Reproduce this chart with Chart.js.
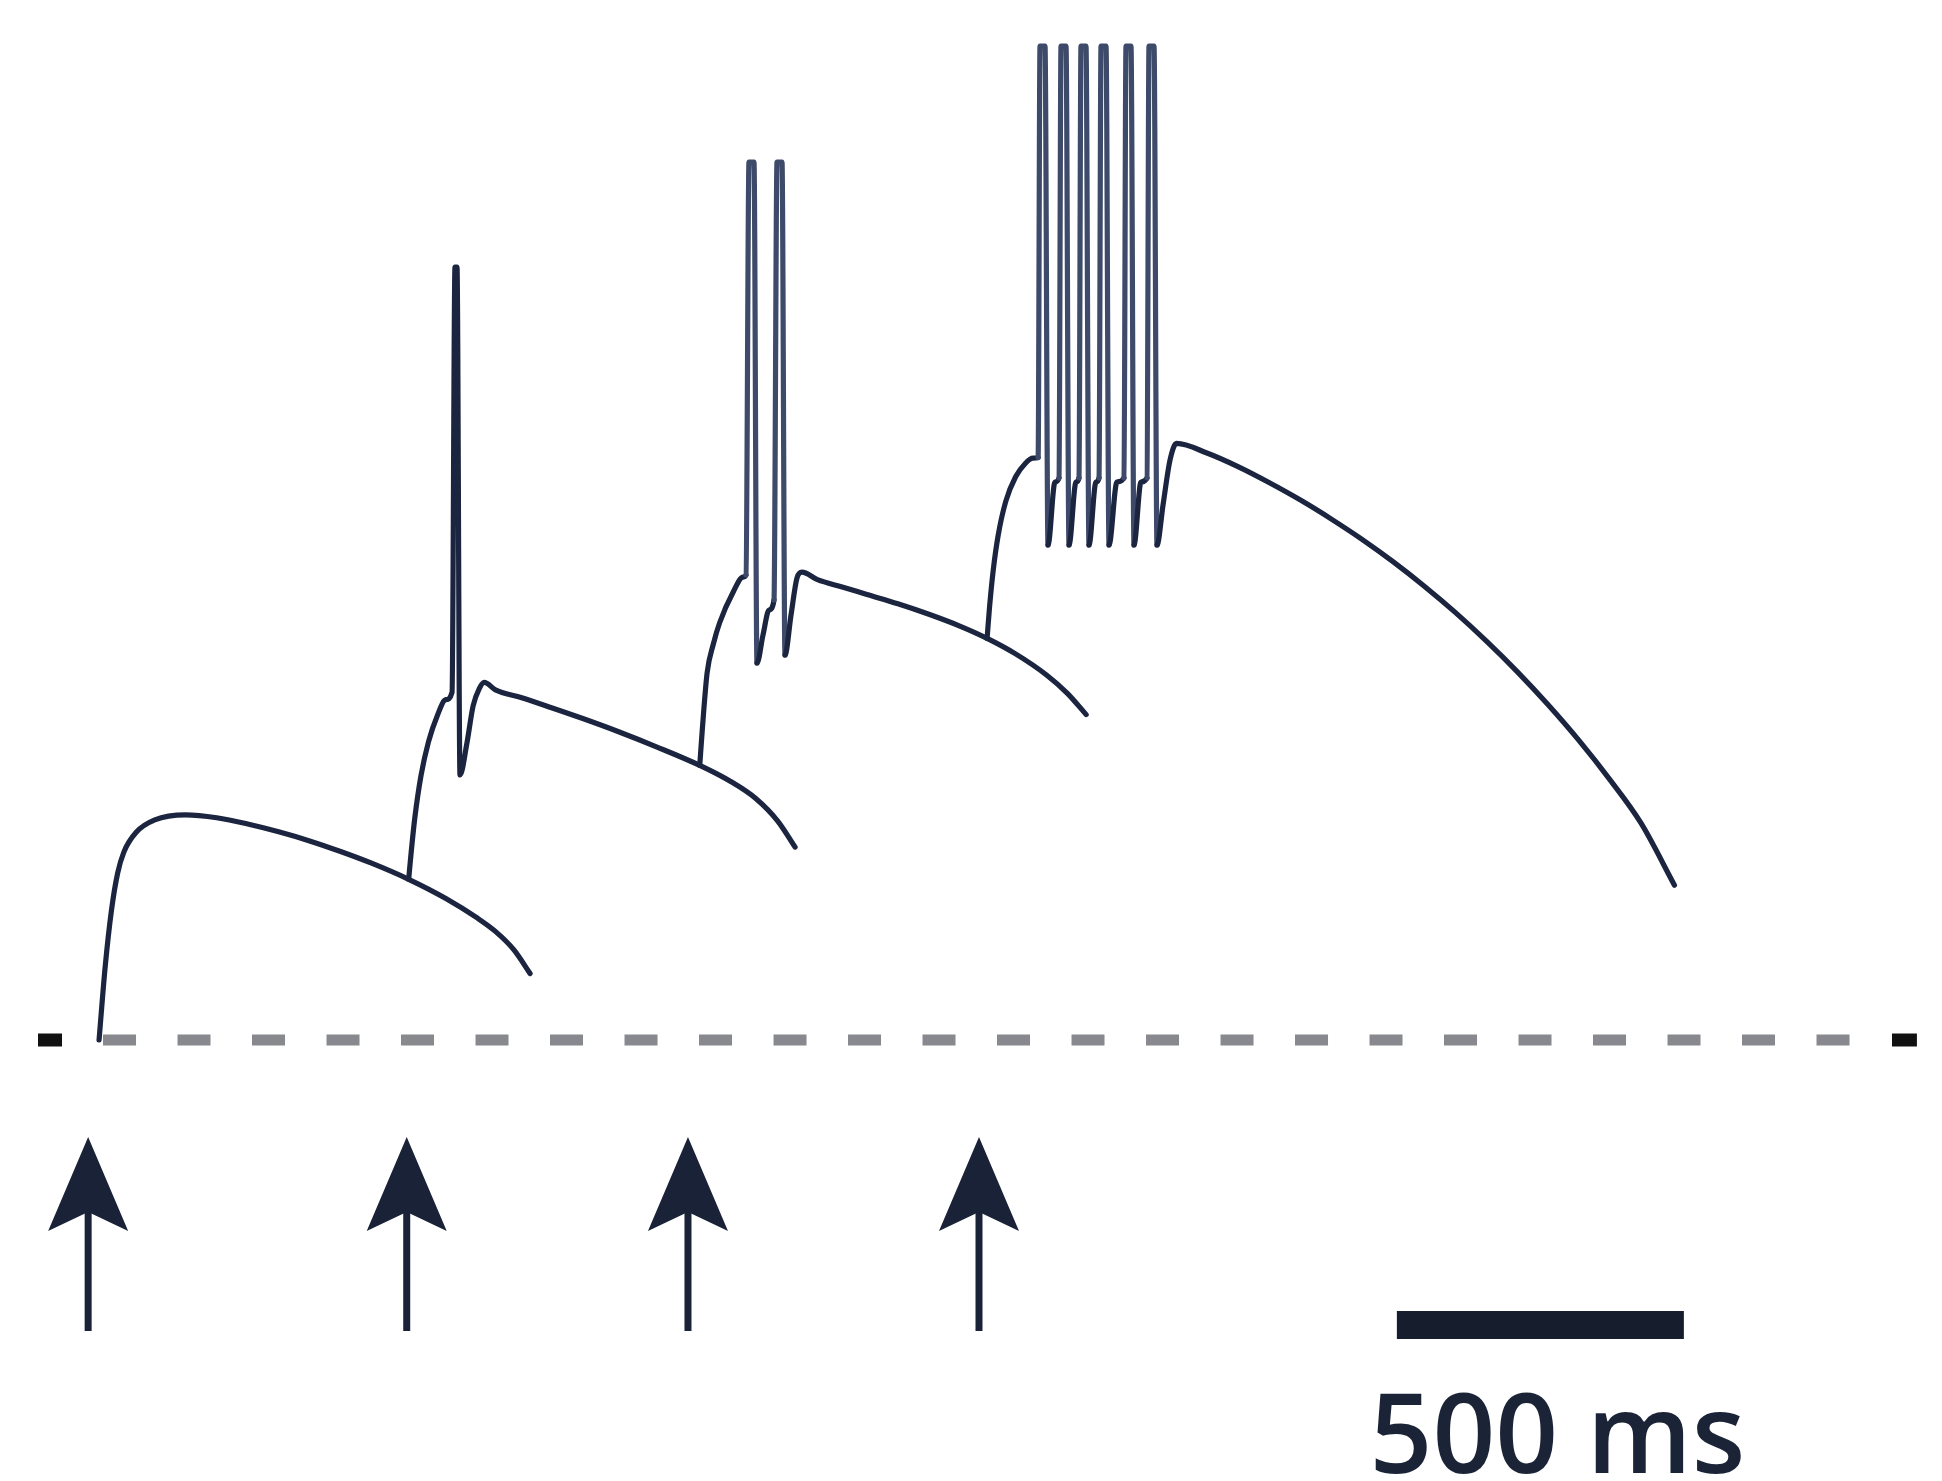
<!DOCTYPE html>
<html>
<head>
<meta charset="utf-8">
<script src="https://cdn.jsdelivr.net/npm/chart.js@4/dist/chart.umd.min.js"></script>
<style>
  html, body { margin: 0; padding: 0; background: #ffffff; }
  #wrap { width: 1942px; height: 1481px; position: relative; }
</style>
</head>
<body>
<div id="wrap"><canvas id="c"></canvas></div>
<script>
// Time in ms from the first stimulus; membrane potential in mV above rest.
const stimTimes = [2, 557, 1047, 1554];

// One stimulus: single EPSP
const trace1 = [
  [21.0, 0.0], [31.8, 7.40], [42.6, 12.97], [53.4, 16.69], [64.2, 18.79], [85.7, 20.77],
  [118.1, 22.01], [172.1, 22.51], [226.0, 22.22], [279.9, 21.60], [333.9, 20.82],
  [387.8, 19.91], [441.8, 18.85], [495.7, 17.68], [560.4, 16.07], [625.2, 14.15],
  [679.1, 12.23], [711.5, 10.86], [743.8, 9.01], [771.9, 6.65]
];

// Two stimuli: one spike
const trace2 = [
  [560.4, 16.07], [564.8, 18.79], [571.2, 22.26], [582.0, 26.47], [594.9, 29.81],
  [610.1, 32.41], [625.2, 34.03], [636.0, 34.77],
  [641.1, 77.3], [644.6, 77.3], [649.8, 26.5],
  [661.9, 29.69], [672.6, 33.40], [683.4, 35.14], [692.1, 35.76], [711.5, 35.02],
  [754.6, 34.27], [806.4, 33.28], [862.5, 32.17], [927.3, 30.80], [992.0, 29.32],
  [1067.5, 27.46], [1121.4, 25.85], [1164.6, 24.17], [1203.4, 21.89], [1233.6, 19.29]
];

// Three stimuli: two spikes
const trace3 = [
  [1067.5, 27.46], [1071.8, 30.93], [1080.4, 36.75], [1091.2, 39.60], [1102.0, 41.70],
  [1125.8, 44.80], [1143.0, 46.29], [1148.1, 46.5],
  [1153.3, 87.8], [1162.0, 87.8], [1167.2, 37.7],
  [1177.7, 40.5], [1188.2, 43.0], [1196.9, 44.0],
  [1202.1, 87.8], [1210.8, 87.8], [1216.0, 38.5],
  [1226.5, 42.5], [1236.9, 46.2], [1245.6, 46.78], [1272.5, 46.04], [1315.6, 45.30],
  [1358.8, 44.55], [1412.7, 43.62], [1466.7, 42.57], [1520.6, 41.39], [1568.1, 40.16],
  [1617.7, 38.61], [1671.6, 36.50], [1708.4, 34.64], [1740.7, 32.54]
];

// Four stimuli: burst of six spikes
const trace4 = [
  [1568.1, 40.16], [1572.4, 43.31], [1578.9, 47.03], [1587.5, 50.50], [1600.5, 53.84],
  [1617.8, 56.32], [1635.0, 57.68], [1648.0, 58.18], [1657.0, 58.24],
  [1660.3, 99.4], [1669.0, 99.4], [1674.2, 49.5], [1686.4, 55.8], [1693.4, 56.2],
  [1696.9, 99.4], [1705.6, 99.4], [1710.8, 49.5], [1723.0, 55.8], [1728.2, 56.2],
  [1731.7, 99.4], [1740.4, 99.4], [1745.6, 49.5], [1757.8, 55.8], [1763.1, 56.2],
  [1766.6, 99.4], [1775.3, 99.4], [1780.5, 49.5], [1794.4, 55.8], [1806.6, 56.2],
  [1810.1, 99.4], [1818.8, 99.4], [1824.0, 49.5], [1836.2, 55.8], [1846.7, 56.2],
  [1850.2, 99.4], [1858.9, 99.4], [1864.1, 49.5],
  [1874.6, 53.5], [1886.8, 58.0], [1898.2, 59.66], [1952.1, 58.67], [2006.1, 57.31],
  [2060.0, 55.72], [2114.0, 53.99], [2167.9, 52.09], [2221.9, 50.04], [2275.8, 47.81],
  [2329.8, 45.38], [2383.7, 42.76], [2437.6, 39.91], [2491.6, 36.84], [2545.5, 33.52],
  [2599.5, 29.93], [2653.4, 26.01], [2707.4, 21.68], [2765.6, 15.48]
];

// Resting level (dashed) and its end marks
const restLine = [[27.9, 0], [3088.0, 0]];
const restMarkLeft = [[-85.4, 0], [-43.6, 0]];
const restMarkRight = [[3144.6, 0], [3188.0, 0]];

// Time scale bar
const scaleBarStart = 2282;
const scaleBarMs = 500;
const scaleBarLevel = -28.5;
const scaleBarLabel = '500 ms';

const INK = '#1c2540';
const SPIKE_INK = '#3e4a6a';
const toXY = arr => arr.map(p => ({ x: p[0], y: p[1] }));

function traceSet(arr, lightSpikes) {
  const ds = {
    data: toXY(arr),
    borderColor: INK,
    borderWidth: 5.2,
    cubicInterpolationMode: 'monotone',
    pointRadius: 0,
    borderJoinStyle: 'round',
    borderCapStyle: 'round',
    fill: false
  };
  if (lightSpikes) {
    ds.segment = {
      borderColor: c => Math.abs(c.p1.parsed.y - c.p0.parsed.y) > 25 || (c.p0.parsed.y > 80 && c.p1.parsed.y > 80) ? SPIKE_INK : undefined
    };
  }
  return ds;
}

const stimArrows = {
  id: 'stimArrows',
  afterDatasetsDraw(chart) {
    const { ctx, scales } = chart;
    const y0 = scales.y.getPixelForValue(0);
    ctx.save();
    ctx.fillStyle = '#1a2238';
    ctx.strokeStyle = '#1a2238';
    stimTimes.forEach(t => {
      const x = scales.x.getPixelForValue(t);
      const tip = y0 + 97, wing = y0 + 191, notch = y0 + 172, bottom = y0 + 291;
      ctx.lineWidth = 7;
      ctx.beginPath();
      ctx.moveTo(x, notch - 4);
      ctx.lineTo(x, bottom);
      ctx.stroke();
      ctx.beginPath();
      ctx.moveTo(x, tip);
      ctx.lineTo(x + 40, wing);
      ctx.lineTo(x, notch);
      ctx.lineTo(x - 40, wing);
      ctx.closePath();
      ctx.fill();
    });
    // scale bar label
    const bx = (scales.x.getPixelForValue(scaleBarStart) + scales.x.getPixelForValue(scaleBarStart + scaleBarMs)) / 2;
    const by = scales.y.getPixelForValue(scaleBarLevel);
    ctx.fillStyle = '#1b2436';
    ctx.font = '600 110px "Open Sans"';
    ctx.textAlign = 'center';
    ctx.textBaseline = 'alphabetic';
    ctx.fillText(scaleBarLabel, bx + 17, by + 148);
    ctx.restore();
  }
};

new Chart(document.getElementById('c'), {
  type: 'line',
  data: {
    datasets: [
      {
        data: toXY(restLine), borderColor: '#87898e', borderWidth: 11,
        borderDash: [33, 41.5], borderCapStyle: 'butt', pointRadius: 0, fill: false
      },
      { data: toXY(restMarkLeft), borderColor: '#111111', borderWidth: 13, borderCapStyle: 'butt', pointRadius: 0 },
      { data: toXY(restMarkRight), borderColor: '#111111', borderWidth: 13, borderCapStyle: 'butt', pointRadius: 0 },
      traceSet(trace1, false),
      traceSet(trace2, false),
      traceSet(trace3, true),
      traceSet(trace4, true),
      {
        data: [{ x: scaleBarStart, y: scaleBarLevel }, { x: scaleBarStart + scaleBarMs, y: scaleBarLevel }],
        borderColor: '#161d2c', borderWidth: 28, borderCapStyle: 'butt', pointRadius: 0
      }
    ]
  },
  options: {
    responsive: true,
    maintainAspectRatio: false,
    animation: false,
    events: [],
    layout: { padding: 0 },
    plugins: { legend: { display: false }, tooltip: { enabled: false } },
    scales: {
      x: { type: 'linear', min: -151.57, max: 3231.7, display: false },
      y: { type: 'linear', min: -44.1, max: 104.0, display: false }
    }
  },
  plugins: [stimArrows]
});
</script>
</body>
</html>
